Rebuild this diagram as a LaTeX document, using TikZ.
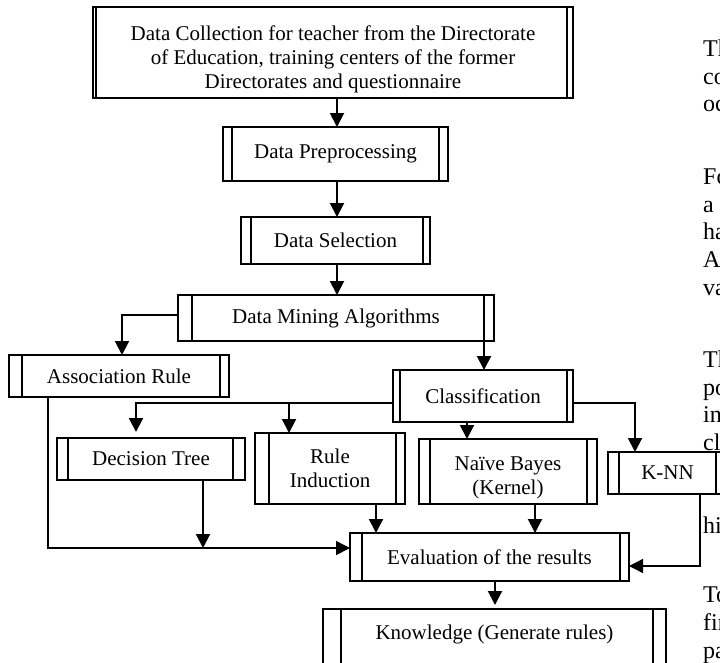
\documentclass[tikz,border=0pt]{standalone}
\usepackage{fontspec}
\setmainfont{Liberation Serif}
\usetikzlibrary{arrows.meta}
\begin{document}
\begin{tikzpicture}[x=1pt,y=-1pt,
  box/.style={draw, line width=1.6pt, fill=white, inner sep=0pt, outer sep=0pt, align=center, font=\fontsize{21}{24}\selectfont},
  innerline/.style={line width=1.6pt},
  arr/.style={line width=2pt, -{Triangle[length=14pt,width=14pt]}},
  side/.style={anchor=base west, inner sep=0pt, font=\fontsize{24}{27}\selectfont}]
\useasboundingbox (0,0) rectangle (720,662);
\fill[white] (0,0) rectangle (720,662);
\clip (0,0) rectangle (720,662);

\node[box, minimum width=480pt, minimum height=91pt, text height=76pt] (top) at (333,52.5) {Data Collection for teacher from the Directorate\\of Education, training centers of the former\\Directorates and questionnaire};
\node[box, minimum width=225pt, minimum height=54pt] (dp) at (335.5,154) {Data Preprocessing};
\node[box, minimum width=189pt, minimum height=47pt] (ds) at (335.5,240.5) {Data Selection};
\node[box, minimum width=316pt, minimum height=46pt] (dma) at (336,318) {Data Mining Algorithms};
\node[box, minimum width=220pt, minimum height=42pt] (ar) at (119,376) {Association Rule};
\node[box, minimum width=180pt, minimum height=52pt] (cls) at (483,396) {Classification};
\node[box, minimum width=188pt, minimum height=42pt] (dt) at (151,459) {Decision Tree};
\node[box, minimum width=150pt, minimum height=71pt] (ri) at (330,468.5) {Rule\\Induction};
\node[box, minimum width=178pt, minimum height=65pt, text height=50pt] (nb) at (508,471.5) {Naïve Bayes\\(Kernel)};
\node[box, minimum width=119pt, minimum height=42pt] (knn) at (667.5,473) {K-NN};
\node[box, minimum width=279pt, minimum height=48pt] (eval) at (489.5,557) {Evaluation of the results};
\node[box, line width=1.2pt, anchor=north, minimum width=343pt, inner ysep=17pt, text height=13pt, text depth=60pt] (kn) at (494.5,609) {Knowledge (Generate rules)};

\foreach \n/\l/\r in {top/3/6, dp/9/9, ds/10/7, dma/14/10, ar/13/9, cls/7/6, dt/11/12, ri/14/9, nb/11/10, knn/11/11, eval/12/9} {
  \draw[innerline] ([xshift=\l pt]\n.north west) -- ([xshift=\l pt]\n.south west);
  \draw[innerline] ([xshift=-\r pt]\n.north east) -- ([xshift=-\r pt]\n.south east);
}
\draw[line width=1.2pt] ([xshift=18pt]kn.north west) -- ([xshift=18pt]kn.south west);
\draw[line width=1.2pt] ([xshift=-13pt]kn.north east) -- ([xshift=-13pt]kn.south east);

\coordinate (xa) at (337,0);
\draw[arr] (top.south -| xa) -- (dp.north -| xa);
\draw[arr] (dp.south -| xa) -- (ds.north -| xa);
\draw[arr] (ds.south -| xa) -- (dma.north -| xa);
\coordinate (k1) at (122,315);
\draw[arr] (dma.west |- k1) -- (k1) -- (k1 |- ar.north);
\coordinate (k2) at (484,0);
\draw[arr] (dma.south -| k2) -- (cls.north -| k2);
\coordinate (k3) at (136,403);
\draw[arr, shorten >=6pt] (cls.west |- k3) -- (k3) -- (k3 |- dt.north);
\coordinate (k4) at (289,403);
\draw[arr] (k4) -- (k4 |- ri.north);
\coordinate (k5) at (467,0);
\draw[arr] (cls.south -| k5) -- (nb.north -| k5);
\coordinate (k6) at (635,403);
\draw[arr] (cls.east |- k3) -- (k6) -- (k6 |- knn.north);
\coordinate (k7) at (48,548);
\draw[arr, line width=1.6pt] (ar.south -| k7) -- (k7) -- (eval.west |- k7);
\coordinate (k9) at (203,548);
\draw[arr] (dt.south -| k9) -- (k9);
\coordinate (k10) at (376,0);
\draw[arr] (ri.south -| k10) -- (eval.north -| k10);
\coordinate (k11) at (535,0);
\draw[arr] (nb.south -| k11) -- (eval.north -| k11);
\coordinate (k12) at (700,566);
\draw[arr, line width=1.5pt] (knn.south -| k12) -- (k12) -- (eval.east |- k12);
\coordinate (k13) at (495,0);
\draw[arr, shorten >=4pt] (eval.south -| k13) -- (kn.north -| k13);

\foreach \t/\yy in {Th/56, co/84, oc/111, Fo/184, a/212, ha/239, A/267, va/295, Th/367, po/395, in/422, cl/450, hi/533, To/602, fin/630, pa/658}
  \node[side] (t\yy) at (703,\yy) {\t};
\end{tikzpicture}
\end{document}
